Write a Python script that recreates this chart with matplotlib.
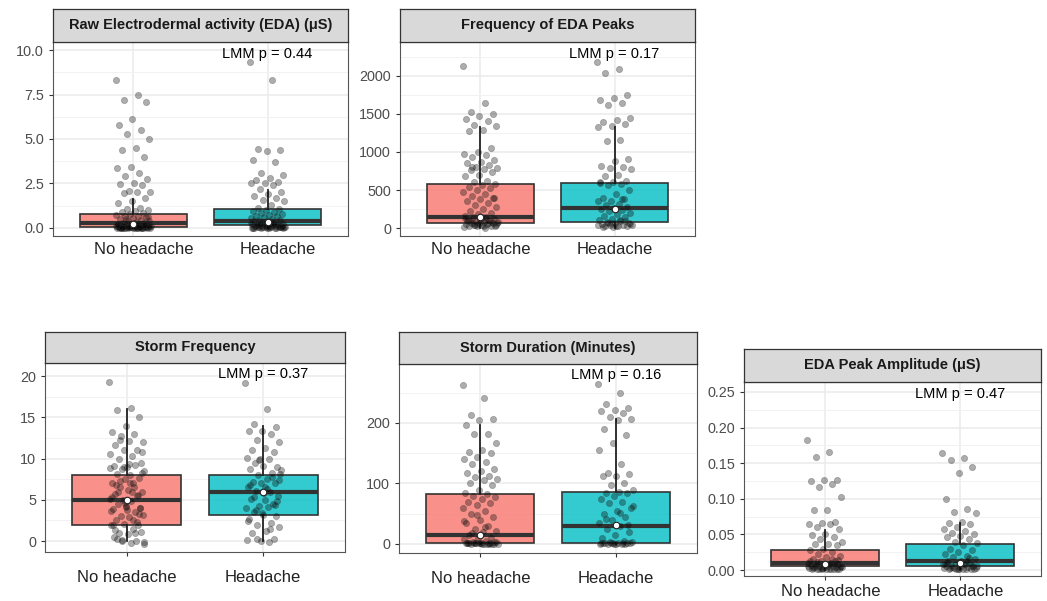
import numpy as np
import matplotlib
matplotlib.use("Agg")
import matplotlib.pyplot as plt
import matplotlib.transforms as mtransforms

plt.rcParams['font.family'] = ['Liberation Sans', 'DejaVu Sans']

groups = ["No headache", "Headache"]
fills = ["#F8766D", "#00BFC4"]

titles = [
    "Raw Electrodermal activity (EDA) (\u03bcS)",
    "Frequency of EDA Peaks",
    "Storm Frequency",
    "Storm Duration (Minutes)",
    "EDA Peak Amplitude (\u03bcS)",
]
pvals = ["0.44", "0.17", "0.37", "0.16", "0.47"]

# box stats per panel: (whislo, q1, med, q3, whishi, mean) for [no headache, headache]
box_stats = [
    [(0.0, 0.04, 0.30, 0.78, 1.65, 0.25), (0.0, 0.15, 0.40, 1.05, 2.15, 0.35)],
    [(0, 70, 150, 580, 1330, 150), (0, 85, 260, 590, 1330, 250)],
    [(0, 2, 5, 8, 16, 5), (0, 3.2, 6, 8, 14, 6)],
    [(0, 2, 15, 82, 197, 15), (0, 2, 30, 86, 207, 31)],
    [(0, 0.005, 0.010, 0.028, 0.056, 0.008), (0, 0.005, 0.012, 0.036, 0.066, 0.010)],
]

eda_nh = [8.3, 7.5, 7.2, 7.1, 6.1, 5.8, 5.5, 5.3, 5.0, 4.5, 4.4, 4.0, 3.4, 3.35, 3.1,
          2.9, 2.75, 2.5, 2.45, 2.4, 2.1, 2.05, 2.0, 1.95, 1.7, 1.5, 1.4, 1.1, 1.05,
          1.0, 0.95, 0.9, 0.85, 0.8, 0.75, 0.7, 0.65, 0.6, 0.55, 0.5, 0.45, 0.4, 0.4,
          0.35, 0.3, 0.3, 0.25, 0.25, 0.2, 0.2, 0.2, 0.15, 0.15, 0.15, 0.1, 0.1, 0.1,
          0.1, 0.08, 0.08, 0.06, 0.06, 0.05, 0.05, 0.04, 0.04, 0.03, 0.03, 0.02, 0.02,
          0.02, 0.01, 0.01, 0.01, 0.0, 0.0, 0.0, 0.0, 0.12, 0.18, 0.22, 0.07, 0.03,
          0.5, 0.6, 0.02, 0.01, 0.0, 0.05, 0.1, 0.15, 0.02, 0.08, 0.12, 0.04, 0.0,
          0.06, 0.09, 0.03, 0.01, 0.14, 0.2, 0.25, 0.07]
eda_h = [9.3, 8.3, 4.45, 4.4, 4.35, 3.8, 3.7, 3.1, 3.0, 2.8, 2.7, 2.6, 2.55, 2.5, 2.4,
         2.2, 2.0, 1.9, 1.8, 1.7, 1.6, 1.5, 1.3, 1.1, 1.05, 1.0, 0.95, 0.9, 0.85, 0.8,
         0.75, 0.7, 0.65, 0.6, 0.55, 0.5, 0.45, 0.45, 0.4, 0.4, 0.35, 0.35, 0.3, 0.3,
         0.25, 0.25, 0.2, 0.2, 0.2, 0.15, 0.15, 0.1, 0.1, 0.1, 0.08, 0.06, 0.05, 0.05,
         0.04, 0.03, 0.02, 0.02, 0.01, 0.0, 0.0, 0.12, 0.18, 0.22, 0.28, 0.3, 0.05,
         0.03, 0.02, 0.01, 0.0, 0.04, 0.08, 0.12, 0.16, 0.06, 0.1, 0.02, 0.14, 0.2,
         0.07, 0.03]

peaks_nh = [2130, 1640, 1530, 1500, 1470, 1440, 1410, 1360, 1340, 1290, 1270, 1050,
            1000, 980, 960, 940, 900, 870, 850, 830, 800, 790, 780, 760, 740, 700, 680,
            620, 600, 580, 560, 540, 520, 500, 480, 450, 420, 400, 380, 350, 330, 300,
            280, 250, 220, 200, 180, 160, 150, 140, 130, 120, 110, 100, 90, 80, 75, 70,
            65, 60, 55, 50, 45, 40, 35, 30, 25, 20, 10, 0, 800, 400, 120, 90, 60, 40,
            70, 30, 100, 80, 50, 130, 110, 60, 20, 150]
peaks_h = [2180, 2090, 2040, 1750, 1710, 1690, 1650, 1620, 1450, 1420, 1390, 1370,
           1340, 1330, 1160, 1150, 910, 880, 820, 800, 790, 770, 700, 680, 620, 600, 590,
           580, 560, 500, 450, 400, 380, 360, 350, 320, 300, 280, 260, 250, 240, 220,
           200, 180, 160, 140, 120, 100, 90, 80, 70, 60, 50, 45, 40, 35, 30, 25, 20, 10,
           600, 380, 70, 50, 30, 15, 90, 60, 40, 110]

sfreq_nh = [19.3, 16.1, 15.9, 15, 14, 13.2, 13, 12.8, 12, 12.1, 11.7, 11, 11.1, 10.5,
            10.3, 10, 9.5, 9, 9.1, 9.2, 8.8, 8.5, 8, 8.1, 7.7, 7.5, 7, 7.1, 6.5, 6, 6.2,
            5.7, 5.5, 5, 5.1, 4.9, 4.5, 4, 4.1, 3.9, 3.5, 3, 3.1, 2.9, 2.5, 2, 2.1, 1.9,
            1.5, 1, 1.1, 0.9, 0.5, 0, 0.1, -0.1, -0.2, 0.2, 3.3, 4.3, 5.3, 6.6, 7.3, 8.3,
            9.4, 1.3, 2.3, 9.0, 8.9, 6.0, 5.9, 4.0, 3.8, 2.0, 1.0, 0.0, -0.3, 7.0, 6.8,
            5.6, 4.6, 3.6, 2.6, 12.3, 10.8]
sfreq_h = [19.2, 16, 14.2, 13.8, 13.4, 13.3, 13, 12.3, 12, 11.3, 11, 10.8, 10, 10.1,
           9.9, 9.5, 9, 9.1, 8.7, 8.3, 8, 8.1, 7.5, 7.2, 7, 7.1, 6.5, 6, 6.1, 5.5, 5,
           5.1, 4.5, 4.2, 4, 4.1, 3.5, 3, 3.1, 2.7, 2.2, 2, 1.7, 1.2, 1, 0.3, 0, 0.1,
           -0.1, 3.8, 4.8, 5.8, 6.8, 7.8, 9.8, 8.6, 6.3, 5.3, 4.4, 3.4, 2.4, 1.4, 0.2,
           7.4, 6.6]

sdur_nh = [262, 241, 214, 207, 205, 197, 182, 181, 167, 156, 152, 150, 143, 140, 136,
           133, 124, 120, 118, 112, 110, 107, 105, 100, 97, 90, 85, 82, 80, 78, 75, 70,
           68, 65, 60, 55, 50, 45, 40, 35, 30, 25, 22, 20, 15, 12, 10, 8, 5, 4, 3, 2, 2,
           1, 1, 0, 0, 0, 0, 1, 2, 0, 1, 3, 0, 2, 1, 48, 38, 28, 18, 0, 1, 2, 0, 1]
sdur_h = [265, 250, 232, 225, 222, 220, 216, 210, 207, 205, 190, 180, 167, 155, 132,
          118, 115, 113, 112, 100, 98, 90, 86, 85, 84, 80, 75, 70, 68, 60, 55, 50, 45,
          40, 35, 30, 25, 20, 15, 10, 5, 4, 3, 2, 2, 1, 1, 0, 0, 0, 1, 0, 2, 0, 1, 62,
          52, 42, 32, 0, 1, 2]

amp_nh = [0.183, 0.166, 0.158, 0.127, 0.126, 0.125, 0.121, 0.117, 0.103, 0.084, 0.084,
          0.068, 0.066, 0.065, 0.064, 0.060, 0.058, 0.050, 0.049, 0.047, 0.043, 0.040,
          0.037, 0.036, 0.035, 0.030, 0.028, 0.025, 0.022, 0.020, 0.018, 0.015, 0.013,
          0.012, 0.010, 0.010, 0.009, 0.008, 0.008, 0.007, 0.006, 0.006, 0.005, 0.005,
          0.004, 0.004, 0.003, 0.003, 0.002, 0.002, 0.002, 0.001, 0.001, 0.001, 0.003,
          0.004, 0.002, 0.006, 0.001, 0.005, 0.012, 0.016, 0.002, 0.004, 0.007, 0.003,
          0.009, 0.001, 0.005, 0.008, 0.011, 0.014]
amp_h = [0.165, 0.157, 0.154, 0.144, 0.136, 0.100, 0.086, 0.082, 0.080, 0.068, 0.066,
         0.065, 0.060, 0.058, 0.055, 0.052, 0.050, 0.048, 0.046, 0.043, 0.040, 0.038,
         0.035, 0.030, 0.028, 0.025, 0.022, 0.020, 0.018, 0.015, 0.013, 0.012, 0.010,
         0.010, 0.009, 0.008, 0.007, 0.006, 0.005, 0.005, 0.004, 0.003, 0.003, 0.002,
         0.002, 0.001, 0.001, 0.003, 0.002, 0.004, 0.001, 0.006, 0.011, 0.017, 0.002,
         0.005, 0.008, 0.003, 0.006, 0.001, 0.009, 0.013]

points = [(eda_nh, eda_h), (peaks_nh, peaks_h), (sfreq_nh, sfreq_h),
          (sdur_nh, sdur_h), (amp_nh, amp_h)]

yticks = [
    ([0, 2.5, 5, 7.5, 10], ["0.0", "2.5", "5.0", "7.5", "10.0"]),
    ([0, 500, 1000, 1500, 2000], ["0", "500", "1000", "1500", "2000"]),
    ([0, 5, 10, 15, 20], ["0", "5", "10", "15", "20"]),
    ([0, 100, 200], ["0", "100", "200"]),
    ([0, 0.05, 0.10, 0.15, 0.20, 0.25], ["0.00", "0.05", "0.10", "0.15", "0.20", "0.25"]),
]
minor_step = [1.25, 250, 2.5, 50, 0.025]
ylims = [(-0.45, 10.45), (-105, 2447), (-1.33, 21.6), (-14.9, 297.5), (-0.0084, 0.264)]

# pixel layout: left, right, strip top, strip bottom, panel bottom
layout = [
    (53, 348, 9, 42, 236),
    (400, 695, 9, 42, 236),
    (45, 345, 332, 363, 552),
    (399, 697, 332, 364, 553),
    (744, 1041, 349, 382, 576),
]
show_xticks = [False, False, True, True, True]
xlabel_pad = [4, 4, 10, 10, 3]
xlabel_shift = [10, 0, 0, 0, 6]   # px

W, H = 1047, 601
fig = plt.figure(figsize=(W / 100, H / 100), dpi=100)


def px_axes(l, t, r, b):
    return fig.add_axes([l / W, 1 - b / H, (r - l) / W, (b - t) / H])


for i in range(5):
    l, r, st, sb, pb = layout[i]
    ax = px_axes(l, sb, r, pb)
    sax = px_axes(l, st, r, sb)

    # strip
    sax.set_facecolor("#D9D9D9")
    sax.set_xticks([])
    sax.set_yticks([])
    for s in sax.spines.values():
        s.set_color("#333333")
        s.set_linewidth(0.9)
    sax.text(0.5, 0.5, titles[i], ha="center", va="center", fontsize=10.5,
             fontweight="bold", color="#1A1A1A", transform=sax.transAxes)

    stats = []
    for g in range(2):
        wl, q1, med, q3, wh, mean = box_stats[i][g]
        stats.append(dict(whislo=wl, q1=q1, med=med, q3=q3, whishi=wh,
                          mean=mean, fliers=[]))
    bp = ax.bxp(stats, positions=[1, 2], widths=0.8, patch_artist=True,
                showcaps=False, showfliers=False, showmeans=False,
                manage_ticks=False,
                boxprops=dict(edgecolor="#333333", linewidth=1.2),
                whiskerprops=dict(color="#222222", linewidth=1.3),
                medianprops=dict(color="#333333", linewidth=3.0))
    for patch, c in zip(bp["boxes"], fills):
        patch.set_facecolor(matplotlib.colors.to_rgba(c, 0.8))
        patch.set_zorder(2)
    for art in bp["whiskers"] + bp["medians"]:
        art.set_zorder(2.5)

    for g in range(2):
        vals = np.array(points[i][g], dtype=float)
        n = len(vals)
        offs = ((np.arange(n) * 0.618034) % 1 - 0.5) * 0.26
        ax.scatter(g + 1 + offs, vals, s=20, color="black", alpha=0.32,
                   linewidths=0.6, edgecolors="#333333", zorder=3)
        ax.scatter([g + 1], [box_stats[i][g][5]], s=22, marker="o",
                   facecolor="white", edgecolor="#222222", linewidths=0.8, zorder=4)

    # panel
    ax.set_xlim(0.4, 2.6)
    ax.set_ylim(*ylims[i])
    ax.set_yticks(yticks[i][0])
    ax.set_yticklabels(yticks[i][1])
    lo, hi = ylims[i]
    ax.set_yticks(np.arange(0, hi, minor_step[i]), minor=True)
    ax.set_xticks([1, 2])
    ax.set_xticklabels(groups)
    ax.grid(True, which="major", color="#EBEBEB", lw=1.1, zorder=0)
    ax.grid(True, which="minor", axis="y", color="#F2F2F2", lw=0.7, zorder=0)
    ax.set_axisbelow(True)
    for s in ax.spines.values():
        s.set_color("#555555")
        s.set_linewidth(0.8)
    ax.tick_params(axis="y", which="major", labelsize=10.4, labelcolor="#4D4D4D",
                   color="#333333", length=3, width=0.8)
    ax.tick_params(axis="y", which="minor", length=0)
    ax.tick_params(axis="x", labelsize=12, labelcolor="#222222", color="#333333",
                   length=3 if show_xticks[i] else 0, width=0.8,
                   pad=xlabel_pad[i])
    if xlabel_shift[i]:
        shift = mtransforms.ScaledTranslation(xlabel_shift[i] / 100, 0, fig.dpi_scale_trans)
        for lab in ax.get_xticklabels():
            lab.set_transform(lab.get_transform() + shift)

    ax.text(2, 0.94, "LMM p = " + pvals[i], ha="center", va="center",
            fontsize=10.5, color="black",
            transform=mtransforms.blended_transform_factory(ax.transData, ax.transAxes))

fig.savefig("out.png", dpi=100)
